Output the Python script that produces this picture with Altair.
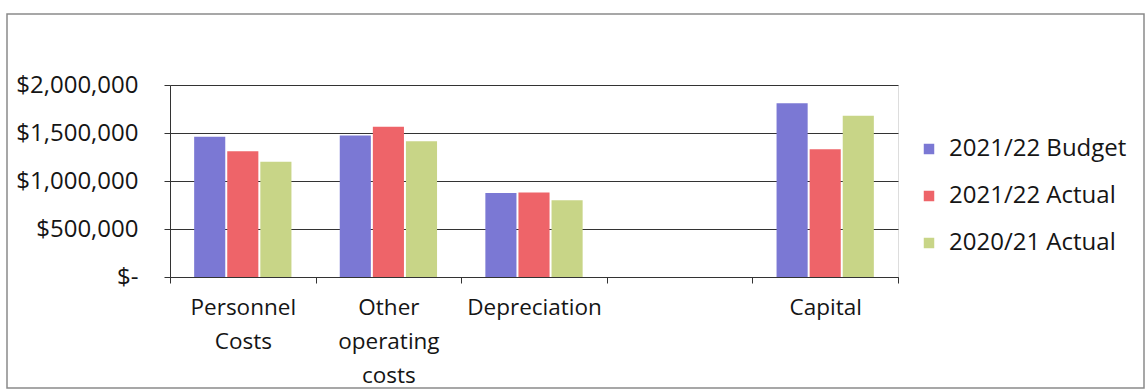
import altair as alt
import pandas as pd

# Expense categories (one empty slot sits between Depreciation and Capital)
categories = ["Personnel Costs", "Other operating costs", "Depreciation", " ", "Capital"]
series = ["2021/22 Budget", "2021/22 Actual", "2020/21 Actual"]

budget_2122 = [1460000, 1475000, 875000, None, 1810000]
actual_2122 = [1310000, 1565000, 880000, None, 1330000]
actual_2021 = [1200000, 1415000, 800000, None, 1680000]

colors = ["#7B78D4", "#EE6469", "#C8D587"]

rows = []
for name, vals in zip(series, [budget_2122, actual_2122, actual_2021]):
    for cat, v in zip(categories, vals):
        if v is not None:
            rows.append({"category": cat, "series": name, "amount": v})
df = pd.DataFrame(rows)

FONT = "Open Sans"
TEXT = "#151515"
W, H = 728, 192
PAD = {"left": 170, "top": 85, "right": 1146 - 170 - W, "bottom": 391 - 85 - H}

bars = alt.Chart(df).mark_bar().encode(
    x=alt.X(
        "category:N",
        scale=alt.Scale(domain=categories, paddingInner=0, paddingOuter=0),
        sort=categories,
        axis=alt.Axis(
            title=None,
            labelAngle=0,
            labelExpr="split(datum.label, ' ')",
            labelFont=FONT,
            labelFontSize=22.5,
            labelColor=TEXT,
            labelLineHeight=34,
            labelPadding=13,
            labelBaseline="top",
            tickBand="extent",
            tickSize=6,
            tickColor="#333333",
            domainColor="#333333",
            grid=False,
        ),
    ),
    xOffset=alt.XOffset(
        "series:N",
        sort=series,
        scale=alt.Scale(domain=series, paddingInner=0.06, paddingOuter=0.73),
    ),
    y=alt.Y(
        "amount:Q",
        scale=alt.Scale(domain=[0, 2000000]),
        axis=alt.Axis(
            title=None,
            values=[0, 500000, 1000000, 1500000, 2000000],
            labelExpr="datum.value == 0 ? '$-' : '$' + format(datum.value, ',')",
            labelFont=FONT,
            labelFontSize=24,
            labelColor=TEXT,
            labelPadding=26,
            tickSize=6,
            tickColor="#333333",
            domainColor="#333333",
            gridColor="#333333",
            gridWidth=1,
        ),
    ),
    color=alt.Color(
        "series:N",
        sort=series,
        scale=alt.Scale(domain=series, range=colors),
        legend=alt.Legend(
            title=None,
            orient="none",
            legendX=747,
            legendY=52,
            symbolType="square",
            symbolSize=110,
            symbolStrokeWidth=0,
            labelFont=FONT,
            labelFontSize=24,
            labelColor=TEXT,
            labelOffset=8,
            labelLimit=400,
            rowPadding=23,
        ),
    ),
)

# Chart-area frame around the whole figure
frame = alt.Chart(pd.DataFrame({"k": [0]})).mark_rect(
    fill=None, stroke="#8a8a8a", strokeWidth=1.5
).encode(
    x=alt.value(7 - 170),
    x2=alt.value(1144 - 170),
    y=alt.value(14 - 85),
    y2=alt.value(388 - 85),
)

chart = alt.layer(frame, bars).properties(
    width=W,
    height=H,
    autosize=alt.AutoSizeParams(type="none"),
    padding=PAD,
).configure_view(stroke=None).configure(background="white")

chart.save("out.html", embed_options={"renderer": "svg", "actions": False})
